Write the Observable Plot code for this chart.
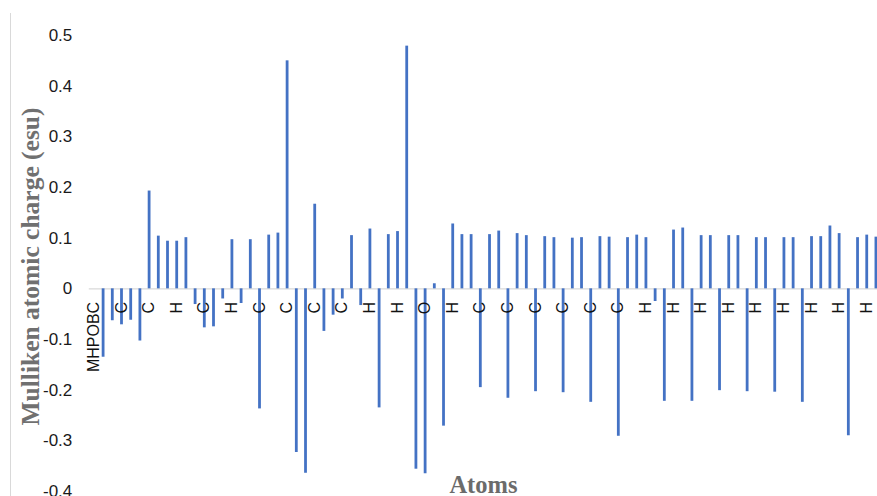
<!DOCTYPE html>
<html><head><meta charset="utf-8">
<script src="https://cdn.jsdelivr.net/npm/d3@7"></script>
<script src="https://cdn.jsdelivr.net/npm/@observablehq/plot@0.6"></script>
<style>
html,body{margin:0;padding:0;background:#fff;}
#wrap{position:relative;width:877px;height:496px;overflow:hidden;}
#border{position:absolute;left:10px;top:13px;width:1px;bottom:0;background:#d9d9d9;}
</style></head><body>
<div id="wrap"><div id="border"></div></div>
<script>
// Mulliken charges per atom index (index 0 = "MHPOBC" header, no value)
const charges = [null,
  -0.135, -0.063, -0.071, -0.062, -0.103, 0.193, 0.104, 0.094, 0.094, 0.101,
  -0.031, -0.077, -0.075, -0.020, 0.097, -0.029, 0.097, -0.237, 0.106, 0.110,
  0.450, -0.323, -0.364, 0.167, -0.084, -0.052, -0.020, 0.105, -0.033, 0.118,
  -0.235, 0.107, 0.113, 0.479, -0.356, -0.365, 0.010, -0.271, 0.128, 0.107,
  0.107, -0.195, 0.107, 0.114, -0.216, 0.109, 0.105, -0.203, 0.103, 0.101,
  -0.205, 0.100, 0.101, -0.224, 0.103, 0.102, -0.291, 0.101, 0.106, 0.101,
  -0.025, -0.222, 0.116, 0.120, -0.222, 0.105, 0.105, -0.201, 0.105, 0.105,
  -0.203, 0.101, 0.101, -0.204, 0.101, 0.101, -0.224, 0.103, 0.103, 0.124,
  0.109, -0.290, 0.101, 0.106, 0.102];
// Visible category labels (every third category is labelled)
const labelAtoms = ["MHPOBC","C","C","H","C","H","C","C","C","C","H","H","O","H",
  "C","C","C","C","C","C","H","H","H","H","H","H","H","H","H"];
const labelStep = 3;
const yTicks = [-0.4, -0.3, -0.2, -0.1, 0, 0.1, 0.2, 0.3, 0.4, 0.5];
const yTitle = "Mulliken atomic charge (esu)";
const xTitle = "Atoms";

const bars = charges.map((v, i) => ({i, v})).filter(d => d.v != null);
const labels = labelAtoms.map((a, k) => ({i: k * labelStep, a}));

const chart = Plot.plot({
  width: 877, height: 496,
  marginLeft: 88.8, marginRight: 0, marginTop: 35, marginBottom: 5,
  x: {domain: [-0.5, 85.17], axis: null},
  y: {domain: [-0.4, 0.5]},
  style: {background: "transparent", fontFamily: "Liberation Sans", fontSize: "17px", color: "#222", overflow: "visible"},
  marks: [
    Plot.ruleY([0], {stroke: "#d9d9d9", strokeWidth: 1.3}),
    Plot.ruleX(bars, {x: "i", y1: 0, y2: "v", stroke: "#4472C4", strokeWidth: 2.8}),
    Plot.axisY({ticks: yTicks, tickSize: 0, tickPadding: 17, label: null,
      tickFormat: d => String(+d.toFixed(1)), fill: "#1a1a1a", fontSize: 17}),
    Plot.text(labels, {x: "i", y: 0, text: "a", rotate: -90, textAnchor: "end", lineAnchor: "middle",
      dy: 13, fontSize: 16, fill: "#111"}),
    Plot.text([yTitle], {frameAnchor: "left", textAnchor: "middle", lineAnchor: "middle", rotate: -90, dx: -58, dy: 3,
      fontFamily: "Liberation Serif", fontWeight: "bold", fontSize: 25.5, fill: "#707070"}),
    Plot.text([xTitle], {frameAnchor: "bottom", dy: 1, lineAnchor: "bottom",
      fontFamily: "Liberation Serif", fontWeight: "bold", fontSize: 24.5, fill: "#6b6b6b"})
  ]
});
document.getElementById("wrap").appendChild(chart);
</script>
</body></html>
